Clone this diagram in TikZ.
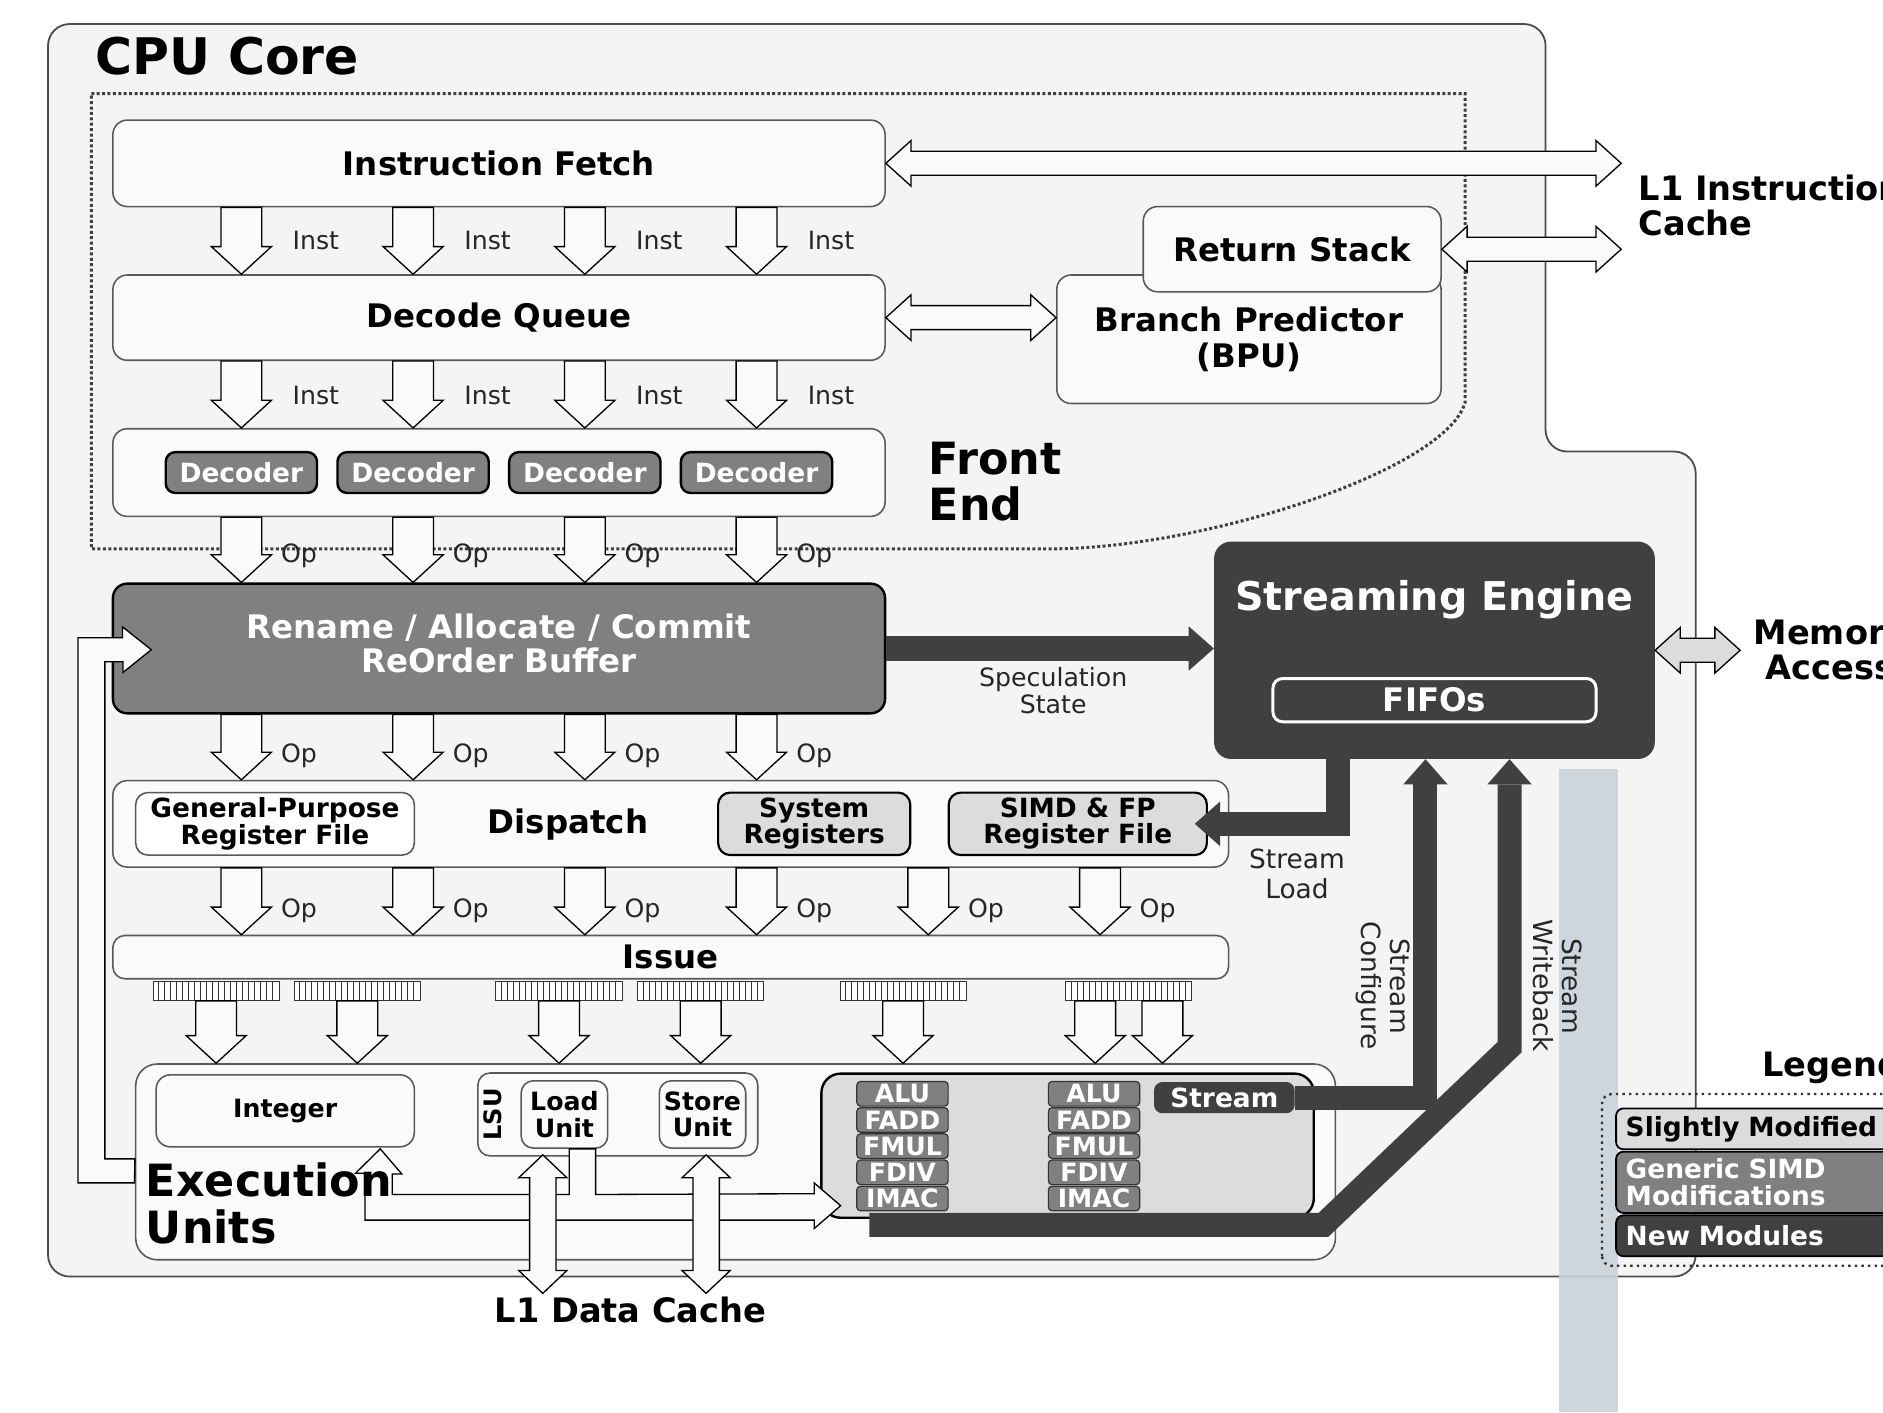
\documentclass[tikz,border=0pt]{standalone}
\usepackage{fontspec}
\setmainfont{DejaVu Sans}
\usetikzlibrary{calc,arrows.meta}
\definecolor{corebg}{HTML}{F4F4F4}
\definecolor{boxbg}{HTML}{FAFAFA}
\definecolor{modgray}{HTML}{DCDCDC}
\definecolor{simdgray}{HTML}{808080}
\definecolor{newgray}{HTML}{404040}
\definecolor{bandblue}{HTML}{C9D3DB}
\newcommand{\fsz}[2]{\fontsize{#1}{#2}\selectfont}
\newcommand{\hollowdown}[2]{%
  \draw[hollow] let \p1=(#1), \p2=(#2) in
    (\x1-17pt,\y1) -- (\x1-17pt,\y2+23pt) -- (\x1-25pt,\y2+23pt) -- (\x1,\y2)
    -- (\x1+25pt,\y2+23pt) -- (\x1+17pt,\y2+23pt) -- (\x1+17pt,\y1) -- cycle;}
\newcommand{\hdouble}[3][]{%
  \draw[hollow,#1] let \p1=(#2), \p2=(#3) in
    (\x1,\y1) -- (\x1+21pt,\y1+19pt) -- (\x1+21pt,\y1+10pt) -- (\x2-21pt,\y1+10pt)
    -- (\x2-21pt,\y1+19pt) -- (\x2,\y1) -- (\x2-21pt,\y1-19pt) -- (\x2-21pt,\y1-10pt)
    -- (\x1+21pt,\y1-10pt) -- (\x1+21pt,\y1-19pt) -- cycle;}
\newcommand{\vdouble}[3][]{%
  \draw[hollow,#1] let \p1=(#2), \p2=(#3) in
    (\x1,\y1) -- (\x1+20pt,\y1-19pt) -- (\x1+11pt,\y1-19pt) -- (\x1+11pt,\y2+19pt)
    -- (\x1+20pt,\y2+19pt) -- (\x1,\y2) -- (\x1-20pt,\y2+19pt) -- (\x1-11pt,\y2+19pt)
    -- (\x1-11pt,\y1-19pt) -- (\x1-20pt,\y1-19pt) -- cycle;}
\tikzset{
  box/.style={draw=black!65, line width=1.3pt, fill=boxbg, rounded corners=12pt, inner sep=0pt},
  sz/.style 2 args={minimum width=#1pt, minimum height=#2pt},
  hdr/.style={font=\bfseries\fsz{27}{30}},
  pill/.style={draw=black, line width=2pt, fill=simdgray, rounded corners=8pt, text=white, font=\bfseries\fsz{22}{22}, inner sep=0pt},
  modbox/.style={draw=black, line width=1.8pt, fill=modgray, rounded corners=10pt, inner sep=0pt, align=center, font=\bfseries\fsz{22}{22}},
  cell/.style={draw=black!80, line width=1pt, fill=simdgray, rounded corners=3pt, text=white, font=\bfseries\fsz{21}{21}, minimum width=76pt, minimum height=20.5pt, inner sep=0pt},
  hollow/.style={draw=black, line width=1.1pt, fill=boxbg, line join=miter},
  stream/.style={draw=newgray, line width=20pt, line join=miter, -{Triangle[width=37pt,length=21pt,line width=0pt]}},
  lbl/.style={font=\fsz{21}{23}, text=black!85, inner sep=0pt, align=center},
  port/.style={draw=black!80, line width=0.8pt, fill=white, minimum width=105pt, minimum height=16pt, inner sep=0pt},
  lgd/.style={draw=black, line width=1.5pt, rounded corners=6pt, anchor=west, text width=250pt, align=left, inner xsep=8pt, inner ysep=0pt, font=\bfseries\fsz{22}{23}}
}
\begin{document}
\begin{tikzpicture}[x=1pt,y=-1pt]
  \useasboundingbox (0,0) rectangle (1568,1176);
  \fill[white] (0,0) rectangle (1568,1176);

  \draw[draw=black!70, line width=1.5pt, fill=corebg, rounded corners=18pt]
    (40,1063) -- (40,20) -- (1287,20) -- (1287,376) -- (1412,376) -- (1412,1063) -- cycle;
  \node[anchor=west, font=\bfseries\fsz{42}{42}] (coretitle) at (76,47) {CPU Core};
  \fill[bandblue, opacity=.9] (1298,640) rectangle (1347,1176);

  \draw[black!75, line width=2.5pt, dash pattern=on 2.5pt off 2pt]
    (76,78) -- (1220,78) -- (1220,335) .. controls (1205,390) and (1010,455) .. (880,457) -- (76,457) -- cycle;

  \foreach \cn/\xx in {c1/201,c2/344,c3/487,c4/630,c5/773,c6/916}
    \coordinate (\cn) at (\xx,0);

  \node[box, sz={643}{72}, hdr] (fetch) at (415.5,136) {Instruction Fetch};
  \node[box, sz={643}{71}, hdr] (dq) at (415.5,264.5) {Decode Queue};
  \node[box, sz={643}{73}] (decbar) at (415.5,393.5) {};
  \foreach \col in {c1,c2,c3,c4}
    \node[pill, sz={126}{34}] (dec\col) at (decbar.center -| \col) {Decoder};
  \node[box, sz={320}{107}, hdr, align=center] (bpu) at (1040,282.5) {Branch Predictor\\(BPU)};
  \node[box, sz={248}{71}, hdr] (rs) at (1076,207.5) {Return Stack};
  \node[anchor=west, align=left, font=\bfseries\fsz{37}{38}] (fe) at (770,401) {Front\\End};

  \node[box, draw=black, line width=2pt, fill=simdgray, sz={643}{108}] (rob) at (415.5,540) {};
  \node[text=white, align=center, font=\bfseries\fsz{27}{28}] (roblbl) at (415.5,536) {Rename / Allocate / Commit\\ReOrder Buffer};

  \node[box, sz={929}{72}] (dispatch) at (558.5,686) {};
  \node[box, fill=white, sz={232}{52}, rounded corners=10pt, align=center,
    font=\bfseries\fsz{22}{22}] (gprf) at (229,686) {General-Purpose\\Register File};
  \node[hdr] (dispatchlbl) at (473,687) {Dispatch};
  \node[modbox, sz={160}{52}] (sysreg) at (678,686) {System\\Registers};
  \node[modbox, sz={215}{52}] (simdrf) at (897.5,686) {SIMD \& FP\\Register File};

  \node[box, sz={929}{36}, rounded corners=10pt, hdr] (issue) at (558.5,797) {Issue};
  \foreach \pp/\xx in {p1/180,p2/297.5,p3/465.5,p4/583.5,p5/752,p6/940}{
    \node[port] (\pp) at (\xx,825) {};
    \foreach \i in {1,...,20}
      \draw[black!80, line width=.7pt] ($(\pp.south west)+(\i*5,0)$) -- ($(\pp.north west)+(\i*5,0)$);
  }

  \node[box, sz={999}{163}, rounded corners=18pt] (eu) at (612.5,967.5) {};
  \node[box, sz={215}{60}, font=\bfseries\fsz{21}{22}] (integer) at (237.5,925) {Integer};
  \node[box, sz={233}{69}, rounded corners=10pt] (lsu) at (514.5,928) {};
  \node[rotate=90, font=\bfseries\fsz{20}{20}] (lsulbl) at (410,928) {LSU};
  \node[box, sz={72}{56}, rounded corners=10pt, align=center, font=\bfseries\fsz{21}{22}] (load) at (470,928) {Load\\Unit};
  \node[box, sz={72}{56}, rounded corners=10pt, align=center, font=\bfseries\fsz{21}{22}] (store) at (585,928) {Store\\Unit};
  \node[box, draw=black, line width=2pt, fill=modgray, sz={410}{120}, rounded corners=16pt] (simd) at (889,954) {};
  \foreach \op [count=\k] in {ALU,FADD,FMUL,FDIV,IMAC}{
    \node[cell] (alua\k) at (751.5,889+\k*21.8) {\op};
    \node[cell] (alub\k) at (911,889+\k*21.8) {\op};
  }
  \node[pill, draw=newgray, fill=newgray, sz={115}{24}, rounded corners=6pt] (streampill) at (1019.5,914) {Stream};

  \node[fill=newgray, rounded corners=14pt, sz={367}{181}, inner sep=0pt] (se) at (1194.5,541.5) {};
  \node[text=white, font=\bfseries\fsz{33}{33}] (selbl) at (1194.5,499) {Streaming Engine};
  \node[draw=white, line width=2.5pt, rounded corners=8pt, sz={269}{36}, inner sep=0pt, text=white,
    font=\bfseries\fsz{27}{27}] (fifos) at (1194.5,583) {FIFOs};

  \foreach \col in {c1,c2,c3,c4}{
    \hollowdown{fetch.south -| \col}{dq.north}
    \hollowdown{dq.south -| \col}{decbar.north}
    \hollowdown{decbar.south -| \col}{rob.north}
    \hollowdown{rob.south -| \col}{dispatch.north}
  }
  \foreach \col in {c1,c2,c3,c4,c5,c6}
    \hollowdown{dispatch.south -| \col}{issue.north};
  \foreach \pp in {p1,p2,p3,p4,p5}
    \hollowdown{\pp.south}{eu.north};
  \hollowdown{$(p6.south)+(-28,0)$}{eu.north}
  \hollowdown{$(p6.south)+(28,0)$}{eu.north}

  \draw[hollow] ($(eu.west)+(0,-2.5)$) -- ++(-25,0) -- ++(0,-414) -- ++(15,0) -- ++(0,9)
    -- ($(rob.west)+(33,1)$) -- ++(-24,-19) -- ++(0,9) -- ++(-37,0) -- ++(0,454) -- ++(47,0) -- cycle;

  \draw[hollow] ($(integer.south east)+(-29,1)$) -- ++(18,21) -- ++(-8,0) -- ++(0,17)
    -- ($(load.south)+(4,38)$) -- ++(0,-38) -- ++(22,0) -- ++(0,38)
    -- ($(simd.west)+(-5,40)$) -- ++(0,-9) -- ++(22,19) -- ++(-22,19) -- ++(0,-7)
    -- ++(-374,0) -- ++(0,-39) -- ++(-8,0) -- cycle;
  \node[anchor=west, align=left, font=\bfseries\fsz{37}{39}] (eulbl) at (118,1002) {Execution\\Units};

  \node[font=\bfseries\fsz{28}{28}] (l1d) at (525,1091) {L1 Data Cache};
  \coordinate (l1dl) at (452,1077);
  \coordinate (l1ds) at (588,1077);
  \vdouble{$(load.south)+(-18,5)$}{l1dl}
  \vdouble{$(store.south)+(3,5)$}{l1ds}

  \coordinate (l1ia) at (1350,136);
  \coordinate (l1ib) at (1350,208);
  \coordinate (mem) at (1449,541.5);
  \hdouble{fetch.east}{l1ia}
  \hdouble{dq.east}{bpu.west}
  \hdouble{rs.east}{l1ib}
  \hdouble[fill=modgray]{se.east}{mem}

  \coordinate (sl) at (1114,0);
  \coordinate (sc) at (1187,0);
  \coordinate (sw) at (1257,0);
  \coordinate (wb0) at (724,1020);
  \coordinate (wb1) at (1102,1020);
  \coordinate (wb2) at (1257,872);
  \draw[stream] (rob.east) -- (se.west |- rob.east);
  \draw[stream] (se.south -| sl) |- ($(simdrf.east)+(-11,0)$);
  \draw[stream] (streampill.east) -| (se.south -| sc);
  \draw[stream] (wb0) -- (wb1) -- (wb2) -- (se.south -| sw);

  \node[lbl] (spec) at (877,575) {Speculation\\State};
  \node[lbl, font=\fsz{22}{25}] (sload) at (1080,728) {Stream\\Load};
  \node[lbl, rotate=-90, font=\fsz{22}{24}] (sconf) at (1152,821) {Stream\\Configure};
  \node[lbl, rotate=-90, font=\fsz{22}{24}] (swb) at (1297,821) {Stream\\Writeback};

  \foreach \col in {c1,c2,c3,c4}{
    \node[lbl] (ia\col) at ($(dq.north -| \col)+(62,-28)$) {Inst};
    \node[lbl] (ib\col) at ($(decbar.north -| \col)+(62,-27)$) {Inst};
    \node[lbl] (oa\col) at ($(rob.north -| \col)+(48,-22)$) {Op};
    \node[lbl] (ob\col) at ($(dispatch.north -| \col)+(48,-20)$) {Op};
  }
  \foreach \col in {c1,c2,c3,c4,c5,c6}
    \node[lbl] (oc\col) at ($(issue.north -| \col)+(48,-20)$) {Op};

  \node[anchor=west, align=left, font=\bfseries\fsz{28}{29}] (l1i) at (1361,171) {L1 Instruction\\Cache};
  \node[align=center, font=\bfseries\fsz{28}{29}] (memlbl) at (1524,541) {Memory\\Access};

  \node[anchor=west, font=\bfseries\fsz{28}{28}] (lgdtitle) at (1464,889) {Legend};
  \draw[black!80, line width=2pt, dash pattern=on 2pt off 3.5pt, rounded corners=8pt]
    (1334,1054) -- (1334,911) -- (1620,911) -- (1620,1054) -- cycle;
  \node[lgd, fill=modgray, minimum height=34pt] (lg1) at (1345,940) {Slightly Modified};
  \node[lgd, fill=simdgray, text=white, minimum height=51pt] (lg2) at (1345,984.5) {Generic SIMD\\Modifications};
  \node[lgd, fill=newgray, text=white, minimum height=34pt] (lg3) at (1345,1029) {New Modules};
\end{tikzpicture}
\end{document}
